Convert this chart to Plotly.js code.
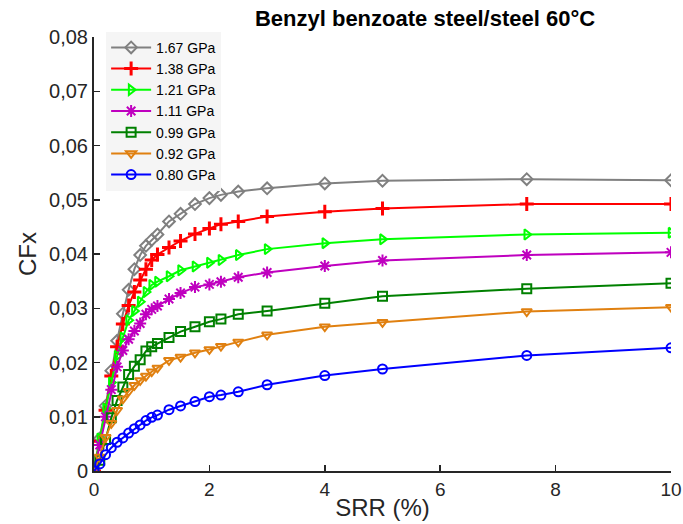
<!DOCTYPE html>
<html>
<head>
<meta charset="utf-8">
<script src="https://cdn.plot.ly/plotly-3.0.1.min.js"></script>
<style>
html,body{margin:0;padding:0;background:#fff;}
#chart{width:683px;height:524px;}
</style>
</head>
<body>
<div id="chart"></div>
<script>
const srr = [0, 0.1, 0.2, 0.3, 0.4, 0.5, 0.6, 0.7, 0.8, 0.9, 1.0, 1.1, 1.3, 1.5, 1.75, 2.0, 2.2, 2.5, 3, 4, 5, 7.5, 10];

const cf167 = [0, 0.0060, 0.0120, 0.0185, 0.0240, 0.0290, 0.0334, 0.0372, 0.0398, 0.0415, 0.0426, 0.0436, 0.0460, 0.0474, 0.0492, 0.0503, 0.0509, 0.0515, 0.0521, 0.0530, 0.0535, 0.0538, 0.0536];
const cf138 = [0, 0.0055, 0.0112, 0.0175, 0.0229, 0.0271, 0.0305, 0.0330, 0.0352, 0.0372, 0.0389, 0.0399, 0.0412, 0.0424, 0.0437, 0.0447, 0.0455, 0.0460, 0.0469, 0.0478, 0.0484, 0.0492, 0.0492];
const cf121 = [0, 0.0060, 0.0115, 0.0163, 0.0212, 0.0246, 0.0278, 0.0295, 0.0312, 0.0330, 0.0343, 0.0349, 0.0359, 0.0370, 0.0377, 0.0384, 0.0389, 0.0398, 0.0409, 0.0420, 0.0427, 0.0436, 0.0439];
const cf111 = [0, 0.0048, 0.0100, 0.0150, 0.0192, 0.0222, 0.0243, 0.0258, 0.0272, 0.0289, 0.0298, 0.0304, 0.0317, 0.0328, 0.0339, 0.0344, 0.0349, 0.0357, 0.0366, 0.0378, 0.0388, 0.0398, 0.0403];
const cf099 = [0, 0.0020, 0.0058, 0.0098, 0.0130, 0.0155, 0.0178, 0.0193, 0.0205, 0.0221, 0.0229, 0.0235, 0.0246, 0.0257, 0.0266, 0.0275, 0.0280, 0.0289, 0.0295, 0.0309, 0.0322, 0.0336, 0.0346];
const cf092 = [0, 0.0026, 0.0062, 0.0088, 0.0112, 0.0133, 0.0147, 0.0158, 0.0167, 0.0175, 0.0183, 0.0190, 0.0204, 0.0210, 0.0218, 0.0224, 0.0230, 0.0238, 0.0251, 0.0266, 0.0274, 0.0294, 0.0302];
const cf080 = [0, 0.0013, 0.0030, 0.0043, 0.0053, 0.0061, 0.0070, 0.0078, 0.0085, 0.0093, 0.0099, 0.0103, 0.0113, 0.0120, 0.0128, 0.0137, 0.0140, 0.0146, 0.0159, 0.0176, 0.0188, 0.0213, 0.0227];

const seriesNames = ['1.67 GPa', '1.38 GPa', '1.21 GPa', '1.11 GPa', '0.99 GPa', '0.92 GPa', '0.80 GPa'];
const seriesValues = [cf167, cf138, cf121, cf111, cf099, cf092, cf080];
const seriesColors = ['#808080', '#ff0000', '#00ff00', '#bf00bf', '#008000', '#e08010', '#0000ff'];
const seriesSymbols = ['diamond-open', 'cross-thin-open', 'triangle-right-open', 'asterisk-open', 'square-open', 'triangle-down-open', 'circle-open'];

const xTickVals = [0, 2, 4, 6, 8, 10];
const xTickText = ['0', '2', '4', '6', '8', '10'];
const yTickVals = [0, 0.01, 0.02, 0.03, 0.04, 0.05, 0.06, 0.07, 0.08];
const yTickText = ['0', '0,01', '0,02', '0,03', '0,04', '0,05', '0,06', '0,07', '0,08'];

const traces = seriesNames.map((name, i) => ({
  x: srr,
  y: seriesValues[i],
  name: name,
  type: 'scatter',
  mode: 'lines+markers',
  line: {color: seriesColors[i], width: 2},
  marker: {
    symbol: seriesSymbols[i],
    size: seriesSymbols[i] === 'cross-thin-open' || seriesSymbols[i] === 'asterisk-open' ? 10 : 9,
    color: seriesColors[i],
    line: {color: seriesColors[i], width: seriesSymbols[i] === 'cross-thin-open' ? 3 : 2}
  }
}));

const axisColor = '#262626';
const layout = {
  width: 683,
  height: 524,
  margin: {l: 94, r: 12, t: 37, b: 53, pad: 0},
  paper_bgcolor: '#ffffff',
  plot_bgcolor: '#ffffff',
  font: {family: 'Liberation Sans, Arial, sans-serif', color: axisColor},
  showlegend: true,
  title: {
    text: '<b>Benzyl benzoate steel/steel 60°C</b>',
    font: {size: 22, color: '#000000', family: 'Liberation Sans, Arial, sans-serif'},
    x: 425 / 683,
    xanchor: 'center',
    y: 1 - 18 / 524,
    yanchor: 'middle'
  },
  xaxis: {
    range: [0, 10],
    tickvals: xTickVals,
    ticktext: xTickText,
    ticks: 'inside',
    ticklen: 6,
    tickwidth: 1.5,
    tickcolor: axisColor,
    ticklabeloverflow: 'allow',
    showline: true,
    linecolor: axisColor,
    linewidth: 2,
    showgrid: false,
    zeroline: false,
    tickfont: {size: 19, color: axisColor},
    title: {text: 'SRR (%)', font: {size: 24, color: axisColor}, standoff: 0}
  },
  yaxis: {
    range: [0, 0.08],
    tickvals: yTickVals,
    ticktext: yTickText,
    ticks: 'inside',
    ticklen: 6,
    tickwidth: 1.5,
    tickcolor: axisColor,
    ticklabeloverflow: 'allow',
    showline: true,
    linecolor: axisColor,
    linewidth: 2,
    showgrid: false,
    zeroline: false,
    tickfont: {size: 20, color: axisColor},
    title: {text: 'CFx', font: {size: 24, color: axisColor}, standoff: 6}
  },
  legend: {
    x: 0.021,
    y: 1.012,
    xanchor: 'left',
    yanchor: 'top',
    bgcolor: '#f5f5f5',
    borderwidth: 0,
    font: {size: 14, color: '#000000'},
    itemwidth: 40,
    tracegroupgap: 0
  }
};

Plotly.newPlot('chart', traces, layout, {displayModeBar: false, staticPlot: true});
</script>
</body>
</html>
